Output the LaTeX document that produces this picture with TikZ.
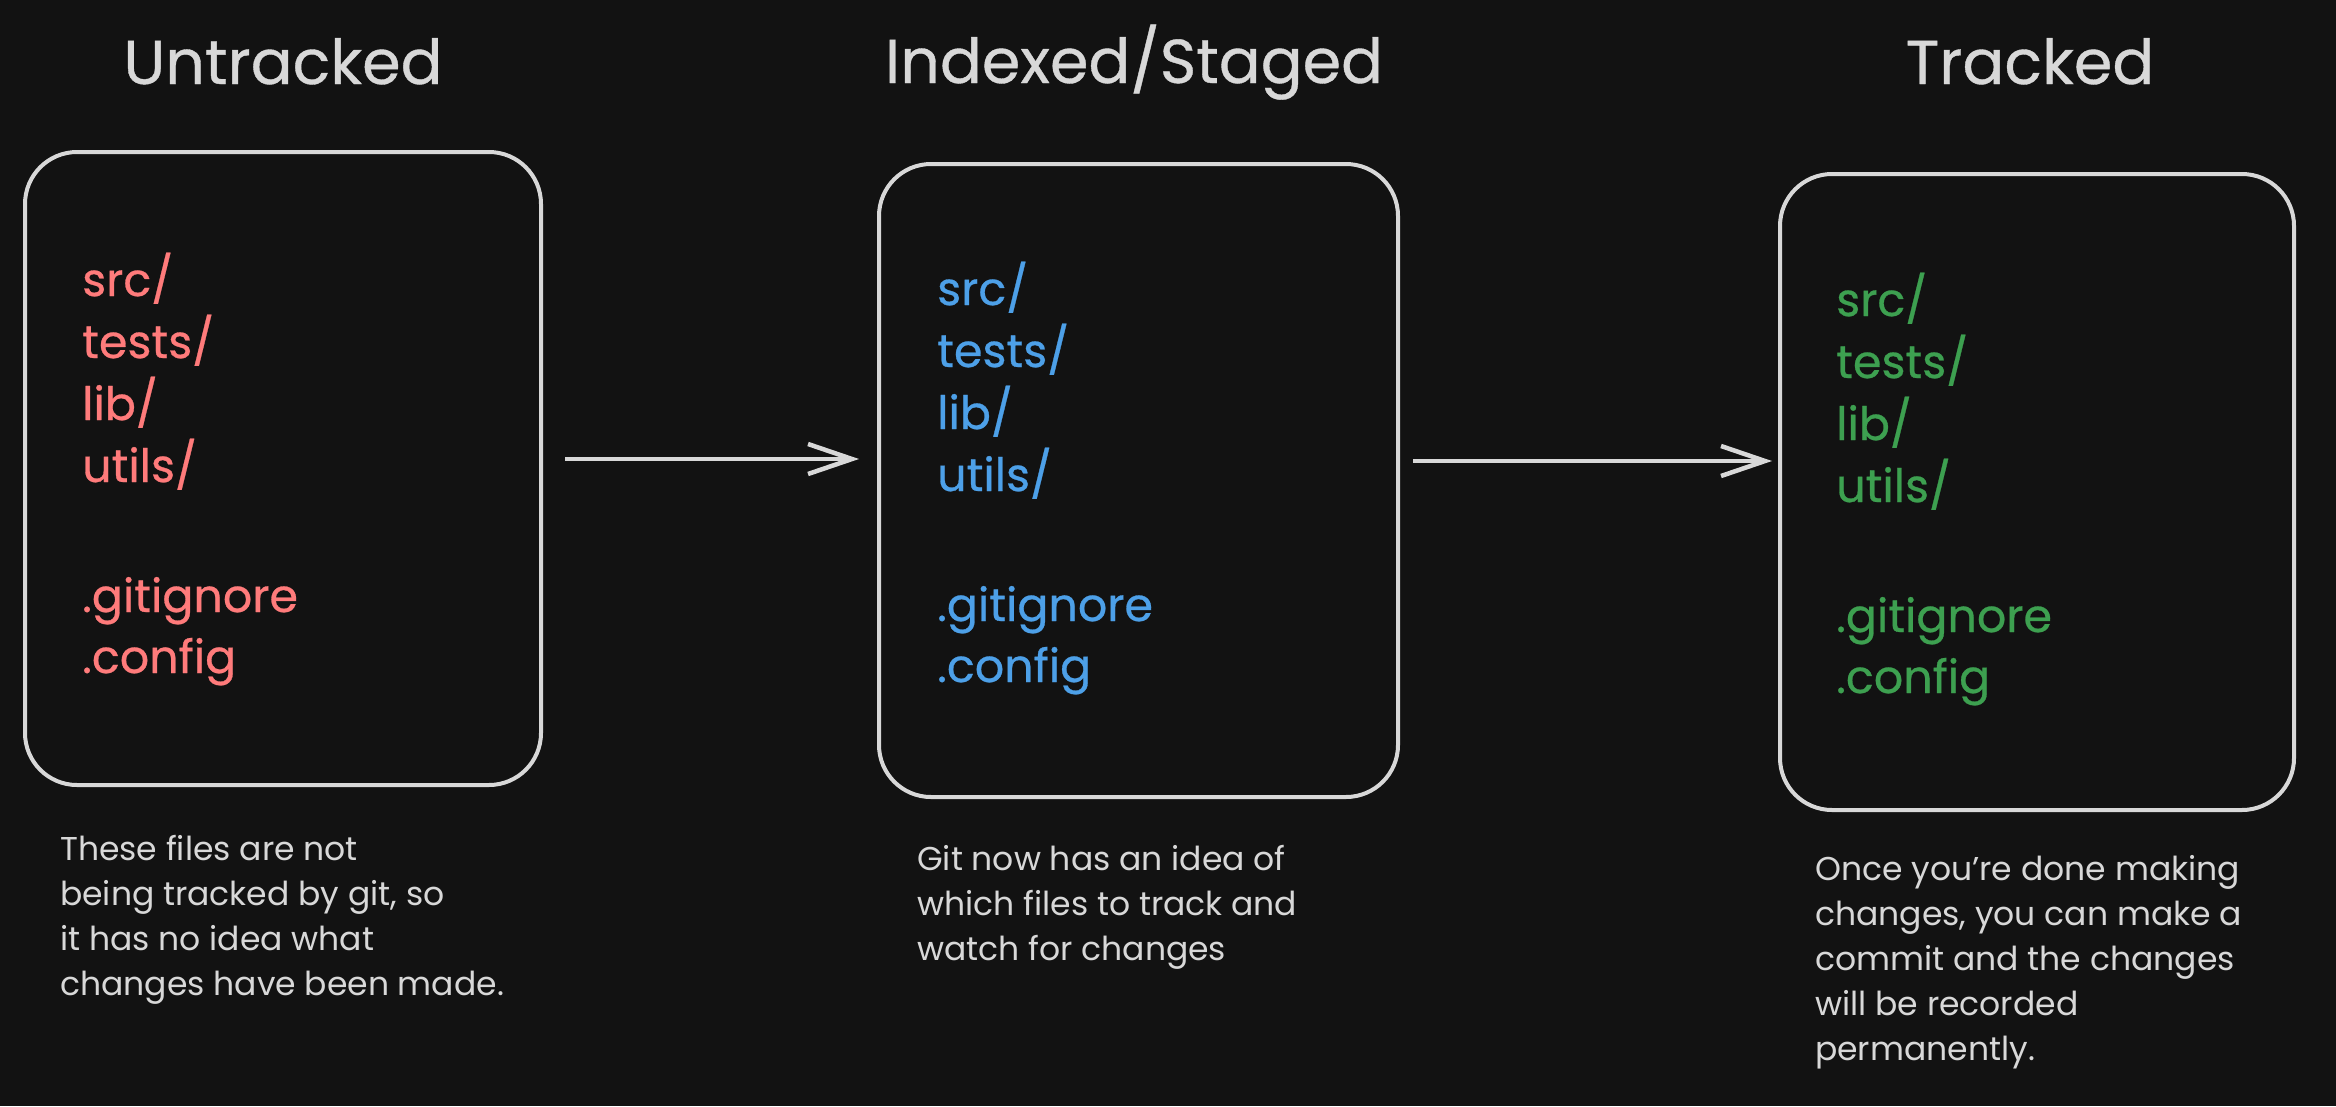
\documentclass[tikz,border=0pt]{standalone}
\usepackage{fontspec}
\setmainfont{Poppins}
\newfontfamily\heavyfont[FakeBold=0.6]{Poppins}
\usetikzlibrary{arrows.meta}
\definecolor{bg}{HTML}{121212}
\definecolor{ink}{HTML}{D8D8D8}
\definecolor{redf}{HTML}{FF7B7B}
\definecolor{bluef}{HTML}{4DA0E8}
\definecolor{greenf}{HTML}{3DA050}
\tikzset{
  box/.style={draw=ink, line width=4pt, rounded corners=52pt, inner sep=0pt},
  arr/.style={draw=ink, line width=4.5pt, -{Straight Barb[length=44pt,width=30pt,line width=4.5pt]}},
  titletxt/.style={text=ink, font=\heavyfont\fontsize{62}{74}\selectfont, anchor=base, inner sep=0pt},
  filetxt/.style={font=\heavyfont\fontsize{46}{56}\selectfont, anchor=base west, inner sep=0pt},
  captxt/.style={text=ink, font=\fontsize{33}{40}\selectfont, anchor=base west, inner sep=0pt}
}
\newcommand\filelist[4]{%
  \foreach \t [count=\i] in {src/, tests/, lib/, utils/}
    \node[filetxt, text=#4] (#1-\i) at (#2, #3+62*\i-62) {\t};
  \node[filetxt, text=#4] (#1-5) at (#2, #3+316) {.gitignore};
  \node[filetxt, text=#4] (#1-6) at (#2, #3+377) {.config};
}
\begin{document}
\begin{tikzpicture}[x=1pt, y=-1pt]
\useasboundingbox (0,0) rectangle (2336,1106);
\fill[bg] (0,0) rectangle (2336,1106);
% titles
\node[titletxt] (t1) at (283,84) {Untracked};
\node[titletxt] (t2) at (1134,83) {Indexed/Staged};
\node[titletxt] (t3) at (2030,84) {Tracked};
% boxes
\node[box, minimum width=516pt, minimum height=633pt] (b1) at (283,468.5) {};
\node[box, minimum width=519pt, minimum height=633pt] (b2) at (1138.5,480.5) {};
\node[box, minimum width=514pt, minimum height=636pt] (b3) at (2037,492) {};
% file lists
\filelist{f1}{82}{296}{redf}
\filelist{f2}{937}{305}{bluef}
\filelist{f3}{1836}{316}{greenf}
% arrows
\draw[arr] ([xshift=22pt]b1.east |- 0,459) -- ([xshift=-18pt]b2.west |- 0,459);
\draw[arr] ([xshift=13pt]b2.east |- 0,461) -- ([xshift=-6pt]b3.west |- 0,461);
% captions
\foreach \t [count=\i] in {These files are not, {being tracked by git, so}, it has no idea what, changes have been made.}
  \node[captxt] (c1-\i) at (60, 860+45*\i-45) {\t};
\foreach \t [count=\i] in {Git now has an idea of, which files to track and, watch for changes}
  \node[captxt] (c2-\i) at (917, 870+45*\i-45) {\t};
\foreach \t [count=\i] in {Once you're done making, {changes, you can make a}, commit and the changes, will be recorded, permanently.}
  \node[captxt] (c3-\i) at (1815, 880+45*\i-45) {\t};
\end{tikzpicture}
\end{document}
